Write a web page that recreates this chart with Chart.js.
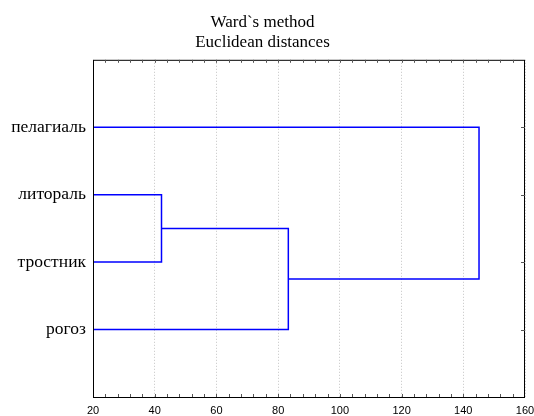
<!DOCTYPE html>
<html lang="ru">
<head>
  <meta charset="UTF-8">
  <title>Ward`s method</title>
  <script src="https://cdn.jsdelivr.net/npm/chart.js"></script>
  <style>
    body { margin: 0; background: #fff; }
    #wrap { width: 534px; height: 416px; }
  </style>
</head>
<body>
  <div id="wrap"><canvas id="dendro"></canvas></div>
  <script>
    // leaves from top to bottom, with their position on the y scale
    const leafNames = ['пелагиаль', 'литораль', 'тростник', 'рогоз'];
    const leafPos = [4, 3, 2, 1];
    // linkage distances: литораль+тростник, (+рогоз), (+пелагиаль)
    const mergeDist = [42.2, 83.3, 145.1];
    const xTicks = [20, 40, 60, 80, 100, 120, 140, 160];

    const xMin = 20, xMax = 160;
    const blue = '#0000ff';

    // build the link segments of the tree
    const y1 = (leafPos[1] + leafPos[2]) / 2;   // литораль + тростник
    const y2 = (y1 + leafPos[3]) / 2;           // + рогоз
    const links = [
      [{x: xMin, y: leafPos[1]}, {x: mergeDist[0], y: leafPos[1]}, {x: mergeDist[0], y: leafPos[2]}, {x: xMin, y: leafPos[2]}],
      [{x: mergeDist[0], y: y1}, {x: mergeDist[1], y: y1}, {x: mergeDist[1], y: leafPos[3]}, {x: xMin, y: leafPos[3]}],
      [{x: mergeDist[1], y: y2}, {x: mergeDist[2], y: y2}, {x: mergeDist[2], y: leafPos[0]}, {x: xMin, y: leafPos[0]}]
    ];

    // box around the plot + small inner ticks (like Statistica)
    const frame = {
      id: 'frame',
      afterDraw(chart) {
        const {ctx, chartArea: a, scales} = chart;
        ctx.save();
        ctx.strokeStyle = '#000';
        ctx.lineWidth = 1;
        ctx.strokeRect(a.left + 0.5, a.top + 0.5, a.right - a.left - 1, a.bottom - a.top);
        ctx.strokeStyle = '#555';
        ctx.beginPath();
        for (let v = xMin + 4; v < xMax; v += 4) {
          const px = Math.round(scales.x.getPixelForValue(v)) + 0.5;
          ctx.moveTo(px, a.top); ctx.lineTo(px, a.top + 3);
          ctx.moveTo(px, a.bottom); ctx.lineTo(px, a.bottom - 3);
        }
        leafPos.forEach(p => {
          const py = Math.round(scales.y.getPixelForValue(p)) + 0.5;
          ctx.moveTo(a.right, py); ctx.lineTo(a.right - 4, py);
        });
        ctx.stroke();
        ctx.restore();
      }
    };

    new Chart(document.getElementById('dendro'), {
      type: 'scatter',
      data: {
        datasets: links.map(pts => ({
          data: pts,
          showLine: true,
          borderColor: blue,
          borderWidth: 1.5,
          pointRadius: 0,
          fill: false
        }))
      },
      options: {
        responsive: true,
        maintainAspectRatio: false,
        animation: false,
        layout: { padding: { left: 0, right: 9, top: 0, bottom: 0 } },
        plugins: {
          legend: { display: false },
          tooltip: { enabled: false },
          title: {
            display: true,
            text: ['Ward`s method', 'Euclidean distances'],
            color: '#000',
            font: { family: 'Liberation Serif', size: 17, weight: 'normal', lineHeight: 1.2 },
            padding: { top: 12, bottom: 7 }
          }
        },
        scales: {
          x: {
            type: 'linear',
            min: xMin,
            max: xMax,
            afterBuildTicks: s => { s.ticks = xTicks.map(v => ({value: v})); },
            afterFit: s => { s.height = 19; s.paddingLeft = 0; s.paddingRight = 0; },
            border: { display: false, dash: [1, 2] },
            grid: { color: '#c4c4c4', drawTicks: false },
            ticks: { color: '#000', padding: 7, maxRotation: 0, font: { family: 'Liberation Sans', size: 11 } }
          },
          y: {
            type: 'linear',
            min: 0,
            max: 5,
            afterBuildTicks: s => { s.ticks = leafPos.map(v => ({value: v})); },
            afterFit: s => { s.width = 93; s.paddingTop = 0; s.paddingBottom = 0; },
            border: { display: false },
            grid: { display: false, drawTicks: false },
            ticks: {
              color: '#000',
              padding: 7,
              font: { family: 'Liberation Serif', size: 17.5 },
              callback: v => leafNames[leafPos.indexOf(v)] || ''
            }
          }
        }
      },
      plugins: [frame]
    });
  </script>
</body>
</html>
